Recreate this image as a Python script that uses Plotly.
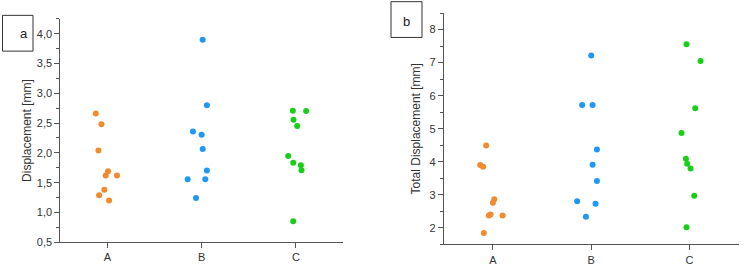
import plotly.graph_objects as go

categories = ["A", "B", "C"]
colors = ["#F28A2E", "#1E98F2", "#18CF18"]

# Panel a: Displacement [mm]
a_A_x = [0.877, 0.937, 0.905, 1.007, 0.982, 1.102, 0.968, 0.912, 1.018]
a_A_y = [2.66, 2.48, 2.04, 1.69, 1.62, 1.62, 1.38, 1.29, 1.20]
a_B_x = [2.011, 2.056, 1.908, 2.000, 2.011, 2.056, 1.852, 2.039, 1.940]
a_B_y = [3.90, 2.80, 2.36, 2.305, 2.064, 1.703, 1.556, 1.556, 1.244]
a_C_x = [2.968, 3.109, 2.975, 3.014, 2.919, 2.972, 3.053, 3.060, 2.972]
a_C_y = [2.709, 2.704, 2.556, 2.452, 1.949, 1.834, 1.791, 1.709, 0.85]

# Panel b: Total Displacement [mm]
b_A_x = [0.932, 0.871, 0.901, 1.014, 1.000, 0.976, 0.959, 1.099, 0.908]
b_A_y = [4.49, 3.90, 3.85, 2.866, 2.758, 2.403, 2.374, 2.374, 1.843]
b_B_x = [2.000, 1.908, 2.014, 2.058, 2.014, 2.058, 1.857, 2.044, 1.946]
b_B_y = [7.213, 5.718, 5.718, 4.371, 3.908, 3.417, 2.807, 2.728, 2.335]
b_C_x = [2.969, 3.112, 3.058, 2.918, 2.963, 2.976, 3.010, 3.048, 2.969]
b_C_y = [7.557, 7.046, 5.62, 4.872, 4.095, 3.938, 3.80, 2.974, 2.02]

panel_a = [(a_A_x, a_A_y), (a_B_x, a_B_y), (a_C_x, a_C_y)]
panel_b = [(b_A_x, b_A_y), (b_B_x, b_B_y), (b_C_x, b_C_y)]

fig = go.Figure()
for (xs, ys), c in zip(panel_a, colors):
    fig.add_trace(go.Scatter(x=xs, y=ys, mode="markers", xaxis="x", yaxis="y",
                             marker=dict(color=c, size=6, line=dict(width=0))))
for (xs, ys), c in zip(panel_b, colors):
    fig.add_trace(go.Scatter(x=xs, y=ys, mode="markers", xaxis="x2", yaxis="y2",
                             marker=dict(color=c, size=6, line=dict(width=0))))

axcol = "#555555"
font = dict(family="Liberation Sans, Arial, sans-serif", size=11, color="#333333")

xcommon = dict(range=[0.5, 3.5], tickvals=[1, 2, 3], ticktext=categories,
               showline=True, linecolor=axcol, linewidth=1, ticks="outside",
               ticklen=5, tickcolor=axcol, showgrid=False, zeroline=False,
               tickfont=dict(size=11))
ycommon = dict(showline=True, linecolor=axcol, linewidth=1, ticks="outside",
               ticklen=5, tickcolor=axcol, showgrid=False, zeroline=False,
               tickfont=dict(size=11))

fig.update_layout(
    width=744, height=270,
    margin=dict(l=0, r=0, t=0, b=0),
    paper_bgcolor="white", plot_bgcolor="white",
    showlegend=False,
    separators=", ",
    font=font,
    xaxis=dict(domain=[0.0810, 0.461], anchor="y", **xcommon),
    yaxis=dict(domain=[0.0826, 0.9285], anchor="x", range=[0.5, 4.25],
               tick0=0.5, dtick=0.5, tickformat=".1f",
               minor=dict(ticks="outside", ticklen=3, tickcolor=axcol, dtick=0.25, tick0=0.5),
               title=dict(text="Displacement [mm]", font=dict(size=12), standoff=2),
               **ycommon),
    xaxis2=dict(domain=[0.5964, 0.9929], anchor="y2", **xcommon),
    yaxis2=dict(domain=[0.0741, 0.9507], anchor="x2", range=[1.5, 8.5],
                tick0=2, dtick=1,
                minor=dict(ticks="outside", ticklen=3, tickcolor=axcol, dtick=0.5, tick0=1.5),
                title=dict(text="Total Displacement [mm]", font=dict(size=12), standoff=6),
                **ycommon),
)

# Panel label boxes
fig.add_shape(type="rect", xref="paper", yref="paper",
              x0=2.5/744, x1=33/744, y0=1-52.3/270, y1=1-15.7/270,
              line=dict(color="#333333", width=1), fillcolor="white")
fig.add_annotation(text="a", xref="paper", yref="paper", x=18/744, y=1-25/270,
                   showarrow=False, font=dict(size=13, color="#222222"))
fig.add_shape(type="rect", xref="paper", yref="paper",
              x0=391/744, x1=422/744, y0=1-38.3/270, y1=1-1.7/270,
              line=dict(color="#333333", width=1), fillcolor="white")
fig.add_annotation(text="b", xref="paper", yref="paper", x=406.5/744, y=1-12/270,
                   showarrow=False, font=dict(size=13, color="#222222"))

fig.write_html("out.html")
